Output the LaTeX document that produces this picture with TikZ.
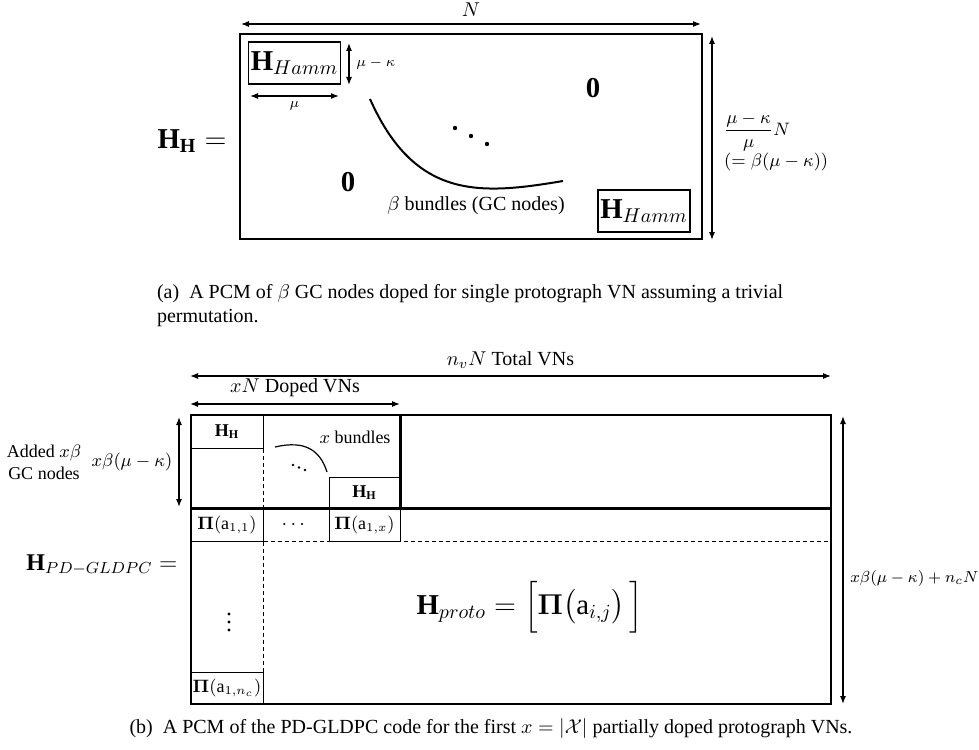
\documentclass[tikz,border=0pt]{standalone}
\usepackage{amsmath,amssymb,bm}
\usepackage{fontspec}
\setmainfont{Liberation Serif}
\usetikzlibrary{arrows.meta,positioning,calc}

\begin{document}
\begin{tikzpicture}[
  x=0.5pt, y=-0.5pt,
  matframe/.style={draw, line width=1.2pt},
  hammbox/.style={
    draw, line width=0.8pt,
    minimum width=46pt, minimum height=21pt,
    inner sep=0pt, font=\Large
  },
  cellbox/.style={
    draw, line width=0.5pt,
    minimum width=36pt, minimum height=16pt,
    inner sep=0pt, font=\small
  },
  dimline/.style={{Latex[length=4pt,width=3pt]}-{Latex[length=4pt,width=3pt]}, line width=0.6pt},
  sepline/.style={dashed, dash pattern=on 2pt off 1.5pt, line width=0.5pt}
]
\useasboundingbox (0,0) rectangle (979,749);

% (a) single VN
\coordinate (aNW) at (240,34);
\coordinate (aSE) at (702,239);
\draw[matframe] (aNW) rectangle (aSE);

\coordinate (nL) at (241,24);
\coordinate (nR) at (701,24);
\draw[dimline] (nL) -- (nR) node[midway, above=0pt] (nlab) {$N$};

\node[hammbox] (hamm1) at (294.5,63) {$\mathbf{H}_{Hamm}$};
\node[hammbox] (hamm2) at (644,211) {$\mathbf{H}_{Hamm}$};

\coordinate (mkT) at (349,43);
\coordinate (mkB) at (349,85);
\draw[dimline] (mkT) -- (mkB) node[midway, right=0pt, font=\scriptsize] (mklab) {$\mu-\kappa$};
\coordinate (muL) at (250,96);
\coordinate (muR) at (339,96);
\draw[dimline] (muL) -- (muR) node[midway, below=-1pt, font=\scriptsize] (mulab) {$\mu$};

\coordinate (bndA) at (370,99);
\coordinate (bndB) at (563,181);
\draw[line width=1pt] (bndA) .. controls (415,200) and (480,195) .. (bndB);
\foreach \k in {0,1,2}
  \fill ({455+16*\k},{128+8*\k}) circle (1.1pt);

\node[font=\Large] (zeroR) at (593,88) {$\mathbf{0}$};
\node[font=\Large] (zeroL) at (348,182) {$\mathbf{0}$};
\node (bndlab) at (476,206) {$\beta$ bundles (GC nodes)};

\coordinate (hT) at (712,36);
\coordinate (hB) at (712,240);
\draw[dimline] (hT) -- (hB);
\node[anchor=west, align=left, font=\small] (hlab) at (717,142)
  {$\dfrac{\mu-\kappa}{\mu}N$\\$(=\beta(\mu-\kappa))$};

\node[font=\Large] (hhEq) at (192,141) {$\mathbf{H}_{\mathbf{H}}=$};

\node[anchor=west, align=left] (capA) at (150,306)
  {(a)\enspace A PCM of $\beta$ GC nodes doped for single protograph VN assuming a trivial\\permutation.};

% (b) PD-GLDPC
\coordinate (bNW) at (191,415);
\coordinate (bSE) at (831,704);

\coordinate (tvL) at (190,376);
\coordinate (tvR) at (831,376);
\draw[dimline] (tvL) -- (tvR) node[midway, above=0pt] (tvlab) {$n_vN$ Total VNs};
\coordinate (dvL) at (190,404);
\coordinate (dvR) at (400,404);
\draw[dimline] (dvL) -- (dvR) node[midway, above=0pt] (dvlab) {$xN$ Doped VNs};

\node[cellbox, minimum height=16.5pt] (hhA) at (227,431.5) {$\mathbf{H}_{\mathbf{H}}$};
\node[cellbox, minimum width=35.5pt] (hhB) at (364.5,493) {$\mathbf{H}_{\mathbf{H}}$};
\node[cellbox] (piA) at (227,525) {$\boldsymbol{\Pi}(\text{a}_{1,1})$};
\node[cellbox, minimum width=35.5pt] (piX) at (364.5,525) {$\boldsymbol{\Pi}(\text{a}_{1,x})$};
\node[cellbox] (piN) at (227,688) {$\boldsymbol{\Pi}(\text{a}_{1,n_c})$};

\draw[sepline] (hhA.south east) -- (piA.north east);
\draw[sepline] (piA.south east) -- (piN.north east);
\draw[sepline] (piA.south east) -- (piA.south east -| bSE);

\draw[matframe] (bNW) rectangle (bSE);
\draw[matframe] (bNW |- piA.north) -- (bSE |- piA.north);
\draw[matframe] (hhB.south east) -- (hhB.south east |- bNW);

\coordinate (xbA) at (275,447);
\coordinate (xbB) at (327,472);
\draw[line width=0.6pt] (xbA) .. controls (305,440) and (320,450) .. (xbB);
\foreach \k in {0,1,2}
  \fill ({293+6*\k},{465+2.5*\k}) circle (0.7pt);
\node[font=\small] (xblab) at (355,437) {$x$ bundles};

\node (hdots) at (295,525) {$\cdots$};
\foreach \k in {0,1,2}
  \fill (229,{614+8*\k}) circle (0.8pt);

\node[font=\Large] (hproto) at (530,607)
  {$\mathbf{H}_{proto}=\Big[\boldsymbol{\Pi}\big(\text{a}_{i,j}\big)\,\Big]$};

\coordinate (rT) at (843,416);
\coordinate (rB) at (843,704);
\draw[dimline] (rT) -- (rB);
\node[anchor=west, font=\footnotesize, inner sep=1pt] (rlab) at (848,578) {$x\beta(\mu-\kappa)+n_cN$};

\coordinate (lT) at (179,417);
\coordinate (lB) at (179,507);
\draw[dimline] (lT) -- (lB);
\node[font=\small] (llab) at (132,462) {$x\beta(\mu-\kappa)$};
\node[font=\small, align=center] (addlab) at (44,462) {Added $x\beta$\\GC nodes};

\node[font=\large] (hpd) at (102,565) {$\mathbf{H}_{PD-GLDPC}=$};

\node (capB) at (491,728)
  {(b)\enspace A PCM of the PD-GLDPC code for the first $x=|\mathcal{X}|$ partially doped protograph VNs.};
\end{tikzpicture}
\end{document}
